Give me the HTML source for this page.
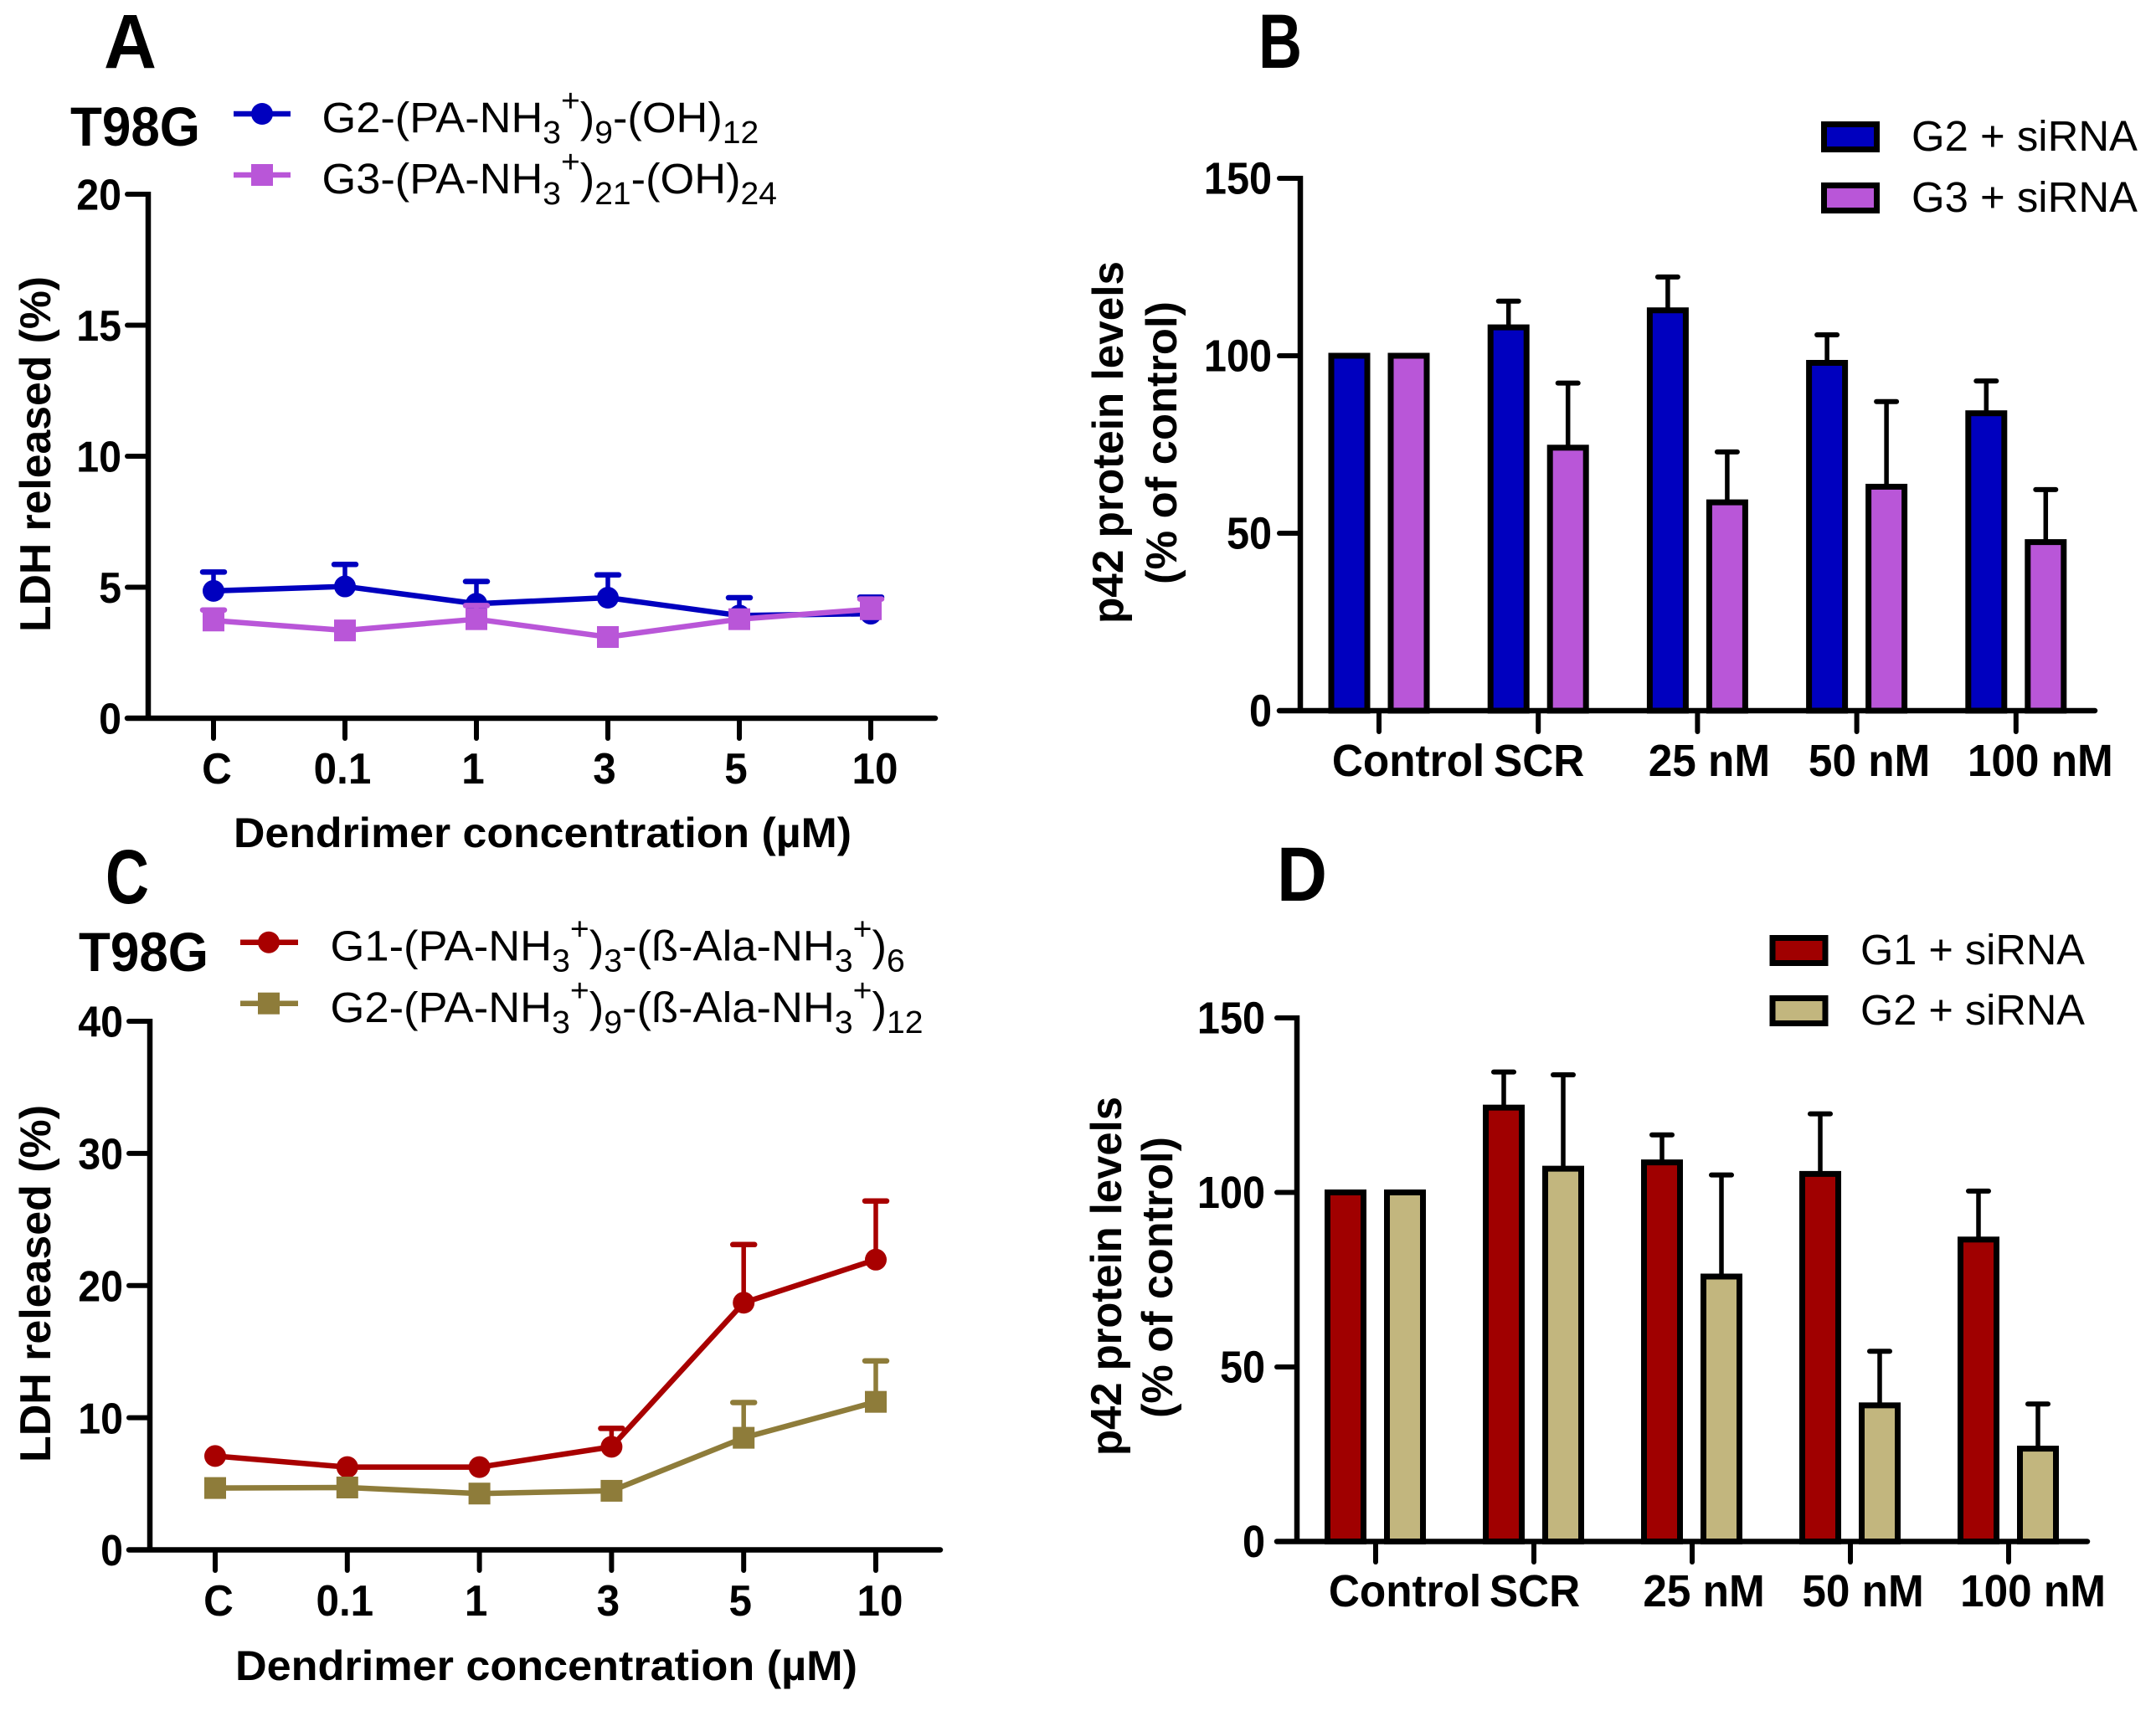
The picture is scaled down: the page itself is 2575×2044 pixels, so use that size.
<!DOCTYPE html>
<html lang="en">
<head>
<meta charset="utf-8">
<title>Dendrimer LDH release and p42 protein levels</title>
<style>
html,body{margin:0;padding:0;background:#fff;}
svg{display:block;}
text{font-family:"Liberation Sans",Arial,sans-serif;fill:#000;}
.panel-letter{font-weight:700;font-size:92px;}
.cell{font-weight:700;font-size:66px;}
.axis-title{font-weight:700;}
.legend-text{font-size:51px;}
.tick{font-weight:700;}
</style>
</head>
<body>
<svg id="figure" xmlns="http://www.w3.org/2000/svg" width="2575" height="2044" viewBox="0 0 2575 2044">
  <rect x="0" y="0" width="2575" height="2044" fill="#fff"/>

  <text class="panel-letter" x="124" y="81" textLength="63" lengthAdjust="spacingAndGlyphs">A</text>
  <text class="panel-letter" x="1503" y="81" textLength="52" lengthAdjust="spacingAndGlyphs">B</text>
  <text class="panel-letter" x="126" y="1079" textLength="52" lengthAdjust="spacingAndGlyphs">C</text>
  <text class="panel-letter" x="1525" y="1076" textLength="60" lengthAdjust="spacingAndGlyphs">D</text>

  <text class="cell" x="84" y="174" textLength="155" lengthAdjust="spacingAndGlyphs">T98G</text>
  <text class="cell" x="94" y="1160" textLength="155" lengthAdjust="spacingAndGlyphs">T98G</text>

  <text class="legend-text" transform="translate(384.5,158) scale(1.027,1)">G2-(PA-NH<tspan dy="13" font-size="38">3</tspan><tspan dy="-38" font-size="38">+</tspan><tspan dy="25">)</tspan><tspan dy="13" font-size="38">9</tspan><tspan dy="-13">-(OH)</tspan><tspan dy="13" font-size="38">12</tspan></text>
  <text class="legend-text" transform="translate(384.5,231) scale(1.027,1)">G3-(PA-NH<tspan dy="13" font-size="38">3</tspan><tspan dy="-38" font-size="38">+</tspan><tspan dy="25">)</tspan><tspan dy="13" font-size="38">21</tspan><tspan dy="-13">-(OH)</tspan><tspan dy="13" font-size="38">24</tspan></text>
  <text class="legend-text" transform="translate(394.5,1147.5) scale(1.03,1)">G1-(PA-NH<tspan dy="13" font-size="38">3</tspan><tspan dy="-38" font-size="38">+</tspan><tspan dy="25">)</tspan><tspan dy="13" font-size="38">3</tspan><tspan dy="-13">-(ß-Ala-NH</tspan><tspan dy="13" font-size="38">3</tspan><tspan dy="-38" font-size="38">+</tspan><tspan dy="25">)</tspan><tspan dy="13" font-size="38">6</tspan></text>
  <text class="legend-text" transform="translate(394.5,1221) scale(1.03,1)">G2-(PA-NH<tspan dy="13" font-size="38">3</tspan><tspan dy="-38" font-size="38">+</tspan><tspan dy="25">)</tspan><tspan dy="13" font-size="38">9</tspan><tspan dy="-13">-(ß-Ala-NH</tspan><tspan dy="13" font-size="38">3</tspan><tspan dy="-38" font-size="38">+</tspan><tspan dy="25">)</tspan><tspan dy="13" font-size="38">12</tspan></text>

  <text class="legend-text" x="2283" y="180" textLength="270" lengthAdjust="spacingAndGlyphs">G2 + siRNA</text>
  <text class="legend-text" x="2283" y="253" textLength="270" lengthAdjust="spacingAndGlyphs">G3 + siRNA</text>
  <text class="legend-text" x="2222" y="1152" textLength="268" lengthAdjust="spacingAndGlyphs">G1 + siRNA</text>
  <text class="legend-text" x="2222" y="1224" textLength="268" lengthAdjust="spacingAndGlyphs">G2 + siRNA</text>

  <rect x="2178.5" y="148.5" width="63" height="30" fill="#0000bf" stroke="#000" stroke-width="7"/>
  <rect x="2178.5" y="221.5" width="63" height="30" fill="#b956d8" stroke="#000" stroke-width="7"/>
  <rect x="2117" y="1120.5" width="63" height="30" fill="#a00000" stroke="#000" stroke-width="7"/>
  <rect x="2117" y="1192.5" width="63" height="30" fill="#c2b67e" stroke="#000" stroke-width="7"/>

  <line x1="279" x2="347" y1="136" y2="136" stroke="#0000bf" stroke-width="6.5"/>
  <ellipse cx="313" cy="136" rx="13" ry="13" fill="#0000bf"/>
  <line x1="279" x2="347" y1="209" y2="209" stroke="#b956d8" stroke-width="6.5"/>
  <rect x="300" y="196" width="26" height="26" fill="#b956d8"/>
  <line x1="287" x2="356" y1="1125.7" y2="1125.7" stroke="#a80000" stroke-width="6.5"/>
  <ellipse cx="321" cy="1125.7" rx="13" ry="13" fill="#a80000"/>
  <line x1="287" x2="356" y1="1198.7" y2="1198.7" stroke="#8e7c3a" stroke-width="6.5"/>
  <rect x="308" y="1185.7" width="26" height="26" fill="#8e7c3a"/>

  <text class="axis-title" x="279" y="1012" font-size="50" textLength="738" lengthAdjust="spacingAndGlyphs">Dendrimer concentration (µM)</text>
  <text class="axis-title" x="281" y="2007" font-size="50" textLength="743" lengthAdjust="spacingAndGlyphs">Dendrimer concentration (µM)</text>
  <text class="axis-title" transform="translate(60,755) rotate(-90)" font-size="52" textLength="425" lengthAdjust="spacingAndGlyphs">LDH released (%)</text>
  <text class="axis-title" transform="translate(60,1747) rotate(-90)" font-size="52" textLength="427" lengthAdjust="spacingAndGlyphs">LDH released (%)</text>
  <text class="axis-title" transform="translate(1341,745) rotate(-90)" font-size="52" textLength="433" lengthAdjust="spacingAndGlyphs">p42 protein levels</text>
  <text class="axis-title" transform="translate(1405,698) rotate(-90)" font-size="52" textLength="338" lengthAdjust="spacingAndGlyphs">(% of control)</text>
  <text class="axis-title" transform="translate(1339,1739) rotate(-90)" font-size="52" textLength="429" lengthAdjust="spacingAndGlyphs">p42 protein levels</text>
  <text class="axis-title" transform="translate(1400,1694) rotate(-90)" font-size="52" textLength="336" lengthAdjust="spacingAndGlyphs">(% of control)</text>

  <g id="chart-a"></g>
  <g id="chart-b"></g>
  <g id="chart-c"></g>
  <g id="chart-d"></g>
</svg>
<script>
// ---- data ----
const doseLabels = ['C', '0.1', '1', '3', '5', '10'];
const groupLabels = ['Control', 'SCR', '25 nM', '50 nM', '100 nM'];

const ticksA = [0, 5, 10, 15, 20];
const ticksC = [0, 10, 20, 30, 40];
const ticksBars = [0, 50, 100, 150];

const aG2Values = [4.86, 5.03, 4.37, 4.60, 3.92, 3.99];
const aG2Upper = [5.58, 5.87, 5.22, 5.47, 4.60, 4.62];
const aG3Values = [3.73, 3.35, 3.78, 3.10, 3.78, 4.16];
const aG3Upper = [4.13, null, 4.30, null, null, 4.55];

const cG1Values = [7.1, 6.26, 6.26, 7.8, 18.7, 21.96];
const cG1Upper = [null, null, null, 9.19, 23.1, 26.4];
const cG2Values = [4.68, 4.72, 4.26, 4.47, 8.48, 11.2];
const cG2Upper = [null, null, null, null, 11.15, 14.3];

const bG2Values = [100, 108.0, 112.8, 98.0, 83.8];
const bG2Upper = [null, 115.4, 122.2, 105.9, 92.9];
const bG3Values = [100, 74.1, 58.7, 63.1, 47.5];
const bG3Upper = [null, 92.3, 72.9, 87.1, 62.3];

const dG1Values = [100, 124.3, 108.6, 105.3, 86.5];
const dG1Upper = [null, 134.5, 116.5, 122.5, 100.4];
const dG2Values = [100, 106.8, 75.9, 39.0, 26.6];
const dG2Upper = [null, 133.7, 105, 54.5, 39.4];

// ---- drawing ----
const NS = 'http://www.w3.org/2000/svg';
function make(tag, parent, attrs) {
  const node = document.createElementNS(NS, tag);
  for (const k in attrs) node.setAttribute(k, attrs[k]);
  parent.appendChild(node);
  return node;
}
function linearY(frame) {
  return v => frame.y0 - (v / frame.yMax) * (frame.y0 - frame.yTop);
}
function categoryX(frame) {
  return i => frame.x0 + i * frame.step;
}
function drawAxes(group, frame, yTicks, xLabels, labelShift, prefix) {
  const y = linearY(frame);
  const x = categoryX(frame);
  const yAxis = make('line', group, {x1: frame.axisX, x2: frame.axisX, y1: frame.yTop - 3, y2: frame.y0 + 3, stroke: '#000', 'stroke-width': 6.5});
  
  
  const xAxis = make('line', group, {x1: frame.tickLeft + 3, x2: frame.axisRight - 3, y1: frame.y0, y2: frame.y0, stroke: '#000', 'stroke-width': 6.5, 'stroke-linecap': 'round'});
  
  
  yTicks.forEach(v => {
    const t = make('line', group, {x1: frame.tickLeft + 3, x2: frame.axisX, y1: y(v), y2: y(v), stroke: '#000', 'stroke-width': 6, 'stroke-linecap': 'round'});
    
    
    const l = make('text', group, {transform: 'translate(' + frame.labelRight + ',' + (y(v) + 18.7) + ') scale(' + frame.yScale + ',1)', 'text-anchor': 'end', class: 'tick', 'font-size': frame.yFont});
    l.textContent = String(v);
    
    
  });
  xLabels.forEach((name, i) => {
    const t = make('line', group, {x1: x(i), x2: x(i), y1: frame.y0, y2: frame.tickBottom - 3, stroke: '#000', 'stroke-width': 6, 'stroke-linecap': 'round'});
    
    
    const l = make('text', group, {transform: 'translate(' + (x(i) + labelShift[i]) + ',' + frame.xLabelY + ') scale(' + frame.xScale + ',1)', 'text-anchor': 'middle', class: 'tick', 'font-size': frame.yFont});
    l.textContent = name;
    
    
  });
}
function drawSeries(group, frame, values, upper, color, shape, prefix) {
  const y = linearY(frame);
  const x = categoryX(frame);
  upper.forEach((u, i) => {
    if (u === null) return;
    const stem = make('line', group, {x1: x(i), x2: x(i), y1: y(values[i]), y2: y(u), stroke: color, 'stroke-width': 5.5});
    
    
    const cap = make('line', group, {x1: x(i) - 13, x2: x(i) + 13, y1: y(u), y2: y(u), stroke: color, 'stroke-width': 6.5, 'stroke-linecap': 'round'});
    
    
  });
  const pts = values.map((v, i) => x(i) + ',' + y(v)).join(' ');
  const line = make('polyline', group, {points: pts, fill: 'none', stroke: color, 'stroke-width': 6.5, 'stroke-linejoin': 'round'});
  
  
  values.forEach((v, i) => {
    const m = shape === 'circle'
      ? make('ellipse', group, {cx: x(i), cy: y(v), rx: 13, ry: 13, fill: color})
      : make('rect', group, {x: x(i) - 13, y: y(v) - 13, width: 26, height: 26, fill: color});
    
    
  });
}
function drawBars(group, frame, values, upper, color, offset, prefix) {
  const y = linearY(frame);
  const x = categoryX(frame);
  upper.forEach((u, i) => {
    if (u === null) return;
    const cx = x(i) + offset;
    const stem = make('line', group, {x1: cx, x2: cx, y1: y(values[i]), y2: y(u), stroke: '#000', 'stroke-width': 5.5});
    
    
    const cap = make('line', group, {x1: cx - 12, x2: cx + 12, y1: y(u), y2: y(u), stroke: '#000', 'stroke-width': 6, 'stroke-linecap': 'round'});
    
    
  });
  values.forEach((v, i) => {
    const bar = make('rect', group, {x: x(i) + offset - 21.5, y: y(v), width: 43, height: frame.y0 - y(v), fill: color, stroke: '#000', 'stroke-width': 7});
    
    
  });
}

const frameA = {x0: 255, step: 157, axisX: 177, axisRight: 1120, tickLeft: 149, labelRight: 145, yTop: 232, y0: 858, yMax: 20, tickBottom: 885, xLabelY: 936, yFont: 52, yScale: 0.93, xScale: 0.95};
const frameC = {x0: 257, step: 157.8, axisX: 179, axisRight: 1126, tickLeft: 151, labelRight: 147, yTop: 1220, y0: 1851.5, yMax: 40, tickBottom: 1879, xLabelY: 1930, yFont: 52, yScale: 0.93, xScale: 0.95};
const frameB = {x0: 1647, step: 190.2, axisX: 1553, axisRight: 2505, tickLeft: 1525, labelRight: 1519, yTop: 213, y0: 849, yMax: 150, tickBottom: 877, xLabelY: 927, yFont: 54, yScale: 0.9, xScale: 0.95};
const frameD = {x0: 1643, step: 189, axisX: 1549, axisRight: 2496, tickLeft: 1522, labelRight: 1511, yTop: 1216, y0: 1841.5, yMax: 150, tickBottom: 1869, xLabelY: 1919, yFont: 54, yScale: 0.9, xScale: 0.95};

const doseShift = [4, -3, -4, -4, -4, 5];
const groupShift = [35, 1, 14, 15, 29];

const gA = document.getElementById('chart-a');
const gB = document.getElementById('chart-b');
const gC = document.getElementById('chart-c');
const gD = document.getElementById('chart-d');

drawSeries(gA, frameA, aG2Values, aG2Upper, '#0000bf', 'circle', 'a-g2');
drawSeries(gA, frameA, aG3Values, aG3Upper, '#b956d8', 'square', 'a-g3');
drawAxes(gA, frameA, ticksA, doseLabels, doseShift, 'a');

drawSeries(gC, frameC, cG1Values, cG1Upper, '#a80000', 'circle', 'c-g1');
drawSeries(gC, frameC, cG2Values, cG2Upper, '#8e7c3a', 'square', 'c-g2');
drawAxes(gC, frameC, ticksC, doseLabels, doseShift, 'c');

drawBars(gB, frameB, bG2Values, bG2Upper, '#0000bf', -35.5, 'b-g2');
drawBars(gB, frameB, bG3Values, bG3Upper, '#b956d8', 35.5, 'b-g3');
drawAxes(gB, frameB, ticksBars, groupLabels, groupShift, 'b');

drawBars(gD, frameD, dG1Values, dG1Upper, '#a00000', -36, 'd-g1');
drawBars(gD, frameD, dG2Values, dG2Upper, '#c2b67e', 35, 'd-g2');
drawAxes(gD, frameD, ticksBars, groupLabels, groupShift, 'd');
</script>
</body>
</html>
